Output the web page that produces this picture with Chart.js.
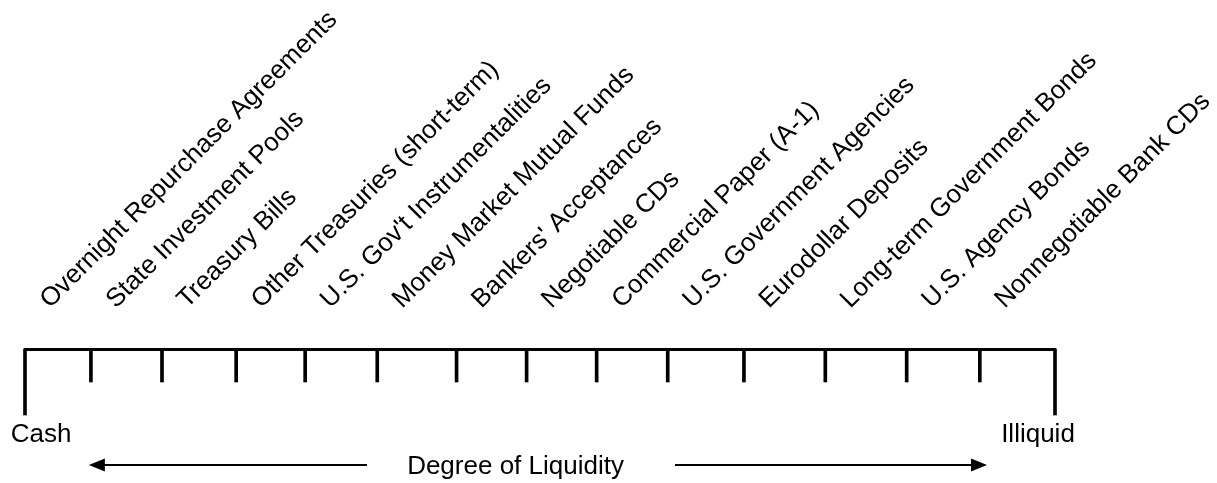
<!DOCTYPE html>
<html>
<head>
<meta charset="utf-8">
<title>Degree of Liquidity</title>
<script src="https://cdn.jsdelivr.net/npm/chart.js@4.4.1/dist/chart.umd.min.js"></script>
<style>
    html, body { margin: 0; padding: 0; background: #fff; }
    #wrap { width: 1217px; height: 483px; position: relative; }
</style>
</head>
<body>
<div id="wrap"><canvas id="liquidityChart"></canvas></div>
<script>
// Instruments, ordered from most liquid (cash) to least liquid
const instruments = [
    'Overnight Repurchase Agreements',
    'State Investment Pools',
    'Treasury Bills',
    'Other Treasuries (short-term)',
    "U.S. Gov't Instrumentalities",
    'Money Market Mutual Funds',
    "Bankers' Acceptances",
    'Negotiable CDs',
    'Commercial Paper (A-1)',
    'U.S. Government Agencies',
    'Eurodollar Deposits',
    'Long-term Government Bonds',
    'U.S. Agency Bonds',
    'Nonnegotiable Bank CDs'
];

// Division marks along the liquidity scale (0 = cash, 100 = illiquid)
const divisions = [0, 6.4, 13.3, 20.5, 27.2, 34.2, 41.9, 48.7, 55.5, 62.4, 69.8, 77.7, 85.6, 92.7, 100];
// Depth of each mark: the two end marks are twice as long
const markDepth = [2, 1, 1, 1, 1, 1, 1, 1, 1, 1, 1, 1, 1, 1, 2];

const endLabels = ['Cash', 'Illiquid'];
const axisTitle = 'Degree of Liquidity';

const FONT_FAMILY = '"Liberation Sans", Arial, Helvetica, sans-serif';
const FONT_SIZE = 26;

function drawArrow(ctx, fromX, toX, y) {
    const dir = toX > fromX ? 1 : -1;
    const headLen = 16;
    const headHalf = 6.5;
    ctx.beginPath();
    ctx.lineWidth = 2;
    ctx.moveTo(fromX, y);
    ctx.lineTo(toX - dir * (headLen - 2), y);
    ctx.stroke();
    ctx.beginPath();
    ctx.moveTo(toX, y);
    ctx.lineTo(toX - dir * headLen, y - headHalf);
    ctx.lineTo(toX - dir * headLen, y + headHalf);
    ctx.closePath();
    ctx.fill();
}

// Cash / Illiquid end labels and the "Degree of Liquidity" arrows below the scale
const liquidityAnnotations = {
    id: 'liquidityAnnotations',
    afterDraw(chart) {
        const { ctx, chartArea } = chart;
        const x = chart.scales.x;
        const base = chartArea.bottom;
        ctx.save();
        ctx.fillStyle = '#000';
        ctx.strokeStyle = '#000';
        ctx.font = FONT_SIZE + 'px ' + FONT_FAMILY;
        ctx.textBaseline = 'alphabetic';

        ctx.textAlign = 'center';
        ctx.fillText(endLabels[0], x.getPixelForValue(0) + 16, base + 27);
        ctx.fillText(endLabels[1], x.getPixelForValue(100) - 17, base + 27);

        const arrowY = base + 50;
        drawArrow(ctx, x.getPixelForValue(33.2), x.getPixelForValue(6.2), arrowY);
        drawArrow(ctx, x.getPixelForValue(63.1), x.getPixelForValue(93.4), arrowY);

        ctx.textAlign = 'left';
        ctx.fillText(axisTitle, x.getPixelForValue(37.1), base + 59);
        ctx.restore();
    }
};

const ctx = document.getElementById('liquidityChart').getContext('2d');

new Chart(ctx, {
    type: 'bar',
    data: {
        datasets: [{
            data: divisions.map((v, i) => ({ x: v, y: [0, markDepth[i]] })),
            backgroundColor: '#000',
            borderWidth: 0,
            barThickness: 3,
            clip: false
        }]
    },
    options: {
        responsive: true,
        maintainAspectRatio: false,
        animation: false,
        layout: {
            padding: { left: 25, right: 162, top: 0, bottom: 68 }
        },
        plugins: {
            legend: { display: false },
            tooltip: { enabled: false }
        },
        scales: {
            x: {
                type: 'linear',
                position: 'top',
                min: 0,
                max: 100,
                offset: false,
                afterBuildTicks: (scale) => {
                    scale.ticks = instruments.map((_, i) => ({ value: divisions[i] }));
                },
                afterFit: (scale) => {
                    scale.height = 349;
                    scale.paddingLeft = 0;
                    scale.paddingRight = 0;
                },
                grid: { display: false, drawTicks: false },
                border: { display: true, color: '#000', width: 3 },
                ticks: {
                    autoSkip: false,
                    minRotation: 45,
                    maxRotation: 45,
                    padding: 34,
                    labelOffset: 42,
                    color: '#000',
                    font: { family: FONT_FAMILY, size: FONT_SIZE },
                    callback: (value, index) => instruments[index]
                }
            },
            y: {
                display: false,
                reverse: true,
                min: 0,
                max: 2
            }
        }
    },
    plugins: [liquidityAnnotations]
});
</script>
</body>
</html>
